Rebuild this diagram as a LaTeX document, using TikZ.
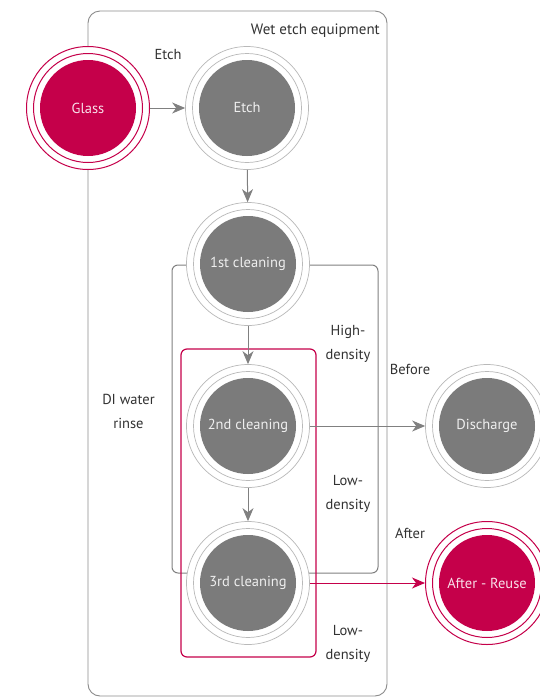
\documentclass[tikz,border=0pt]{standalone}
\usepackage{fontspec}
\setmainfont{PT Sans}
\usetikzlibrary{arrows.meta}
\definecolor{lgred}{RGB}{197,0,74}
\definecolor{cfill}{RGB}{123,123,123}
\definecolor{cring}{RGB}{185,185,185}
\definecolor{conn}{RGB}{128,128,128}
\definecolor{framec}{RGB}{140,140,140}
\definecolor{lbltext}{RGB}{50,50,50}
\tikzset{
  stage/.style n args={3}{circle, inner sep=0pt, minimum size=123pt, draw=#1, fill=white,
    line width=#3, text=white!88!#2, font=\fontsize{14.5}{17}\selectfont,
    path picture={\fill[#2] (path picture bounding box.center) circle (48pt);
      \draw[#1, line width=#3] (path picture bounding box.center) circle (54.5pt);}},
  greystage/.style={stage={cring}{cfill}{0.7pt}},
  redstage/.style={stage={lgred}{lgred}{1pt}},
  lbl/.style={font=\fontsize{14.5}{24}\selectfont, text=lbltext, align=center, inner sep=0pt},
  arr/.style={-{Stealth[length=13pt,width=11pt,inset=4pt]}, draw=conn, fill=conn, line width=1pt},
  redarr/.style={-{Stealth[length=13pt,width=11pt,inset=4pt]}, draw=lgred, fill=lgred, line width=1pt},
  framebox/.style={draw=framec, rounded corners=12pt, line width=0.9pt},
  loopbox/.style={draw=conn, rounded corners=6pt, line width=1pt},
  redbox/.style={draw=lgred, rounded corners=6pt, line width=1.2pt},
}
\begin{document}
\begin{tikzpicture}[x=1pt, y=-1pt]
\useasboundingbox (0,0) rectangle (540,697);
\fill[white] (0,0) rectangle (540,697);
% frames
\draw[framebox] (88,11) rectangle (387,696);
\draw[loopbox] (172,265) rectangle (378,573);
\draw[redbox] (181,349) rectangle (316,657);
% stages
\node[redstage] (glass) at (88,108) {Glass};
\node[greystage] (etch) at (247,108) {Etch};
\node[greystage] (c1) at (248,264) {1st cleaning};
\node[greystage] (c2) at (248,426) {2nd cleaning};
\node[greystage] (c3) at (248,583) {3rd cleaning};
\node[greystage] (dis) at (487,426) {Discharge};
\node[redstage] (reuse) at (487,583) {After - Reuse};
% connectors
\draw[arr] (glass) -- (etch);
\draw[arr] (etch) -- (c1);
\draw[arr] (c1) -- (c2);
\draw[arr] (c2) -- (c3);
\draw[arr] (c2) -- (dis);
\draw[redarr] (c3) -- (reuse);
% labels
\node[lbl] (letch) at (168,55) {Etch};
\node[lbl, anchor=east, font=\fontsize{15}{24}\selectfont] (lwet) at (380,31) {Wet etch equipment};
\node[lbl] (lhigh) at (348,344) {High-\\density};
\node[lbl] (lbefore) at (410,369) {Before};
\node[lbl] (ldi) at (128.5,411) {DI water\\rinse};
\node[lbl] (llow1) at (348,494) {Low-\\density};
\node[lbl] (lafter) at (410,533) {After};
\node[lbl] (llow2) at (348,644) {Low-\\density};
\end{tikzpicture}
\end{document}
